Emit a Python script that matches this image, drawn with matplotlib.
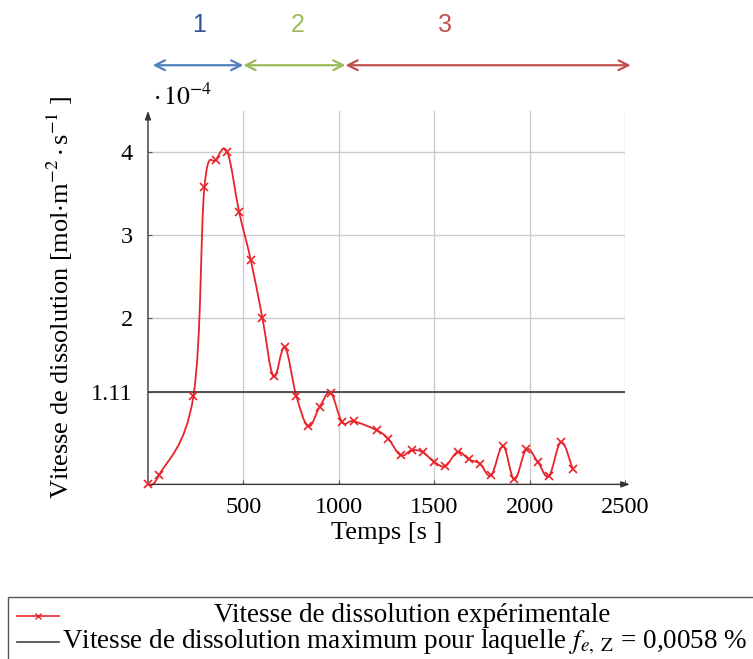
import numpy as np
import matplotlib
matplotlib.use("Agg")
import matplotlib.pyplot as plt
from matplotlib.path import Path
from matplotlib.patches import PathPatch, Rectangle
from matplotlib.lines import Line2D
import matplotlib.transforms as mtransforms

plt.rcParams['font.family'] = ['Liberation Serif', 'DejaVu Serif']
plt.rcParams['mathtext.fontset'] = 'stix'

# temps [s] et vitesse de dissolution [1e-4 mol.m-2.s-1]
temps = [0, 58, 238, 296, 357, 416, 478, 539, 600, 658, 717, 777, 840, 899, 957,
         1018, 1079, 1200, 1259, 1324, 1382, 1439, 1501, 1558, 1623, 1683, 1739,
         1798, 1861, 1920, 1983, 2043, 2101, 2165, 2225]
vitesse = [0.0, 0.11, 1.06, 3.58, 3.91, 4.0, 3.28, 2.70, 2.00, 1.30, 1.65, 1.07,
           0.70, 0.93, 1.10, 0.75, 0.76, 0.65, 0.55, 0.35, 0.41, 0.39, 0.27, 0.22,
           0.39, 0.30, 0.25, 0.11, 0.46, 0.06, 0.42, 0.27, 0.10, 0.51, 0.19]
v_max = 1.11

xticks = [500, 1000, 1500, 2000, 2500]
yticks = [1.11, 2, 3, 4]
ytick_labels = ['1.11', '2', '3', '4']

# zones en haut
zones = ['1', '2', '3']
zone_debut = [25, 500, 1035]
zone_fin = [500, 1035, 2530]
zone_label_x = [268, 787, 1558]
zone_colors = ['#4f81bd', '#9bbb59', '#c0504d']
zone_text_colors = ['#2f5597', '#9bbb59', '#c0504d']

fig = plt.figure(figsize=(7.53, 6.59), dpi=100)
ax = fig.add_axes([0.1965, 0.265, 0.6335, 0.567])
ax.set_xlim(0, 2500)
ax.set_ylim(0, 4.5)

ax.grid(True, color='#cccccc', lw=1)
ax.set_axisbelow(True)
ax.set_xticks(xticks)
ax.set_yticks(yticks)
ax.set_yticklabels(ytick_labels)
ax.tick_params(direction='in', length=3, width=0.8, color='#555555', labelsize=17.5)
ax.tick_params(axis='x', pad=9)
ax.tick_params(axis='y', pad=11)
for s in ['top', 'right', 'left', 'bottom']:
    ax.spines[s].set_visible(False)

# axes avec fleches
ax.annotate('', xy=(1.016, 0), xytext=(0, 0), xycoords='axes fraction',
            arrowprops=dict(arrowstyle='-|>,head_length=0.5,head_width=0.18', lw=1, color='#333333'),
            annotation_clip=False)
ax.annotate('', xy=(0, 1.007), xytext=(0, 0), xycoords='axes fraction',
            arrowprops=dict(arrowstyle='-|>,head_length=0.5,head_width=0.18', lw=1, color='#333333'),
            annotation_clip=False)

ax.axhline(v_max, color='#444444', lw=1.3)

# courbe lissee (bezier type catmull-rom)
pts = np.column_stack([temps, vitesse])
n = len(pts)
k = 0.18
verts = [pts[0]]
codes = [Path.MOVETO]
for i in range(n - 1):
    p0 = pts[i - 1] if i > 0 else pts[i]
    p1 = pts[i]
    p2 = pts[i + 1]
    p3 = pts[i + 2] if i + 2 < n else pts[i + 1]
    verts += [p1 + (p2 - p0) * k, p2 - (p3 - p1) * k, p2]
    codes += [Path.CURVE4] * 3
ax.add_patch(PathPatch(Path(verts, codes), fill=False, edgecolor='#e8232a', lw=1.3, clip_on=False))
ax.plot(temps, vitesse, 'x', color='#e8232a', ms=6, mew=1.2, clip_on=False)

ax.set_xlabel('Temps [s ]', fontsize=19, labelpad=3)
ax.set_ylabel(r'Vitesse de dissolution [mol$\cdot$m$^{-2}\cdot$s$^{-1}$ ]', fontsize=19)
ax.yaxis.set_label_coords(-0.153, 0.5)
ax.text(0.010, 1.037, r'$\cdot\,10^{-4}$', transform=ax.transAxes, fontsize=18.5,
        ha='left', va='center')

# fleches des zones
trans = mtransforms.blended_transform_factory(ax.transData, fig.transFigure)
for lab, a, b, lx, c, tc in zip(zones, zone_debut, zone_fin, zone_label_x, zone_colors, zone_text_colors):
    ax.annotate('', xy=(b, 0.901), xytext=(a, 0.901), xycoords=trans, textcoords=trans,
                arrowprops=dict(arrowstyle='<->,head_length=0.7,head_width=0.35', lw=1.6,
                                color=c, shrinkA=0, shrinkB=0),
                annotation_clip=False)
    ax.text(lx, 0.962, lab, transform=trans, fontsize=18, color=tc, ha='center',
            va='center', family=['Liberation Sans', 'DejaVu Sans'])

# legende
fig.add_artist(Rectangle((8 / 753, -0.1), 1.0, 0.1 + (659 - 597) / 659, transform=fig.transFigure,
                         fill=False, edgecolor='#555555', lw=1))
y1 = 1 - 616 / 659
y2 = 1 - 642 / 659
fig.add_artist(Line2D([17 / 753, 59 / 753], [y1, y1], color='#e8232a', lw=1.2,
                      transform=fig.transFigure))
fig.add_artist(Line2D([38 / 753], [y1], color='#e8232a', marker='x', ms=5, mew=1,
                      transform=fig.transFigure))
fig.add_artist(Line2D([17 / 753, 59 / 753], [y2, y2], color='#444444', lw=1.2,
                      transform=fig.transFigure))
fig.text(412 / 753, y1, 'Vitesse de dissolution expérimentale', fontsize=19.5,
         ha='center', va='center')
fig.text(405 / 753, y2, r'Vitesse de dissolution maximum pour laquelle $f_{e,\ \mathrm{Z}}$ = 0,0058 %',
         fontsize=19.5, ha='center', va='center')

fig.savefig('out.png', dpi=100)
